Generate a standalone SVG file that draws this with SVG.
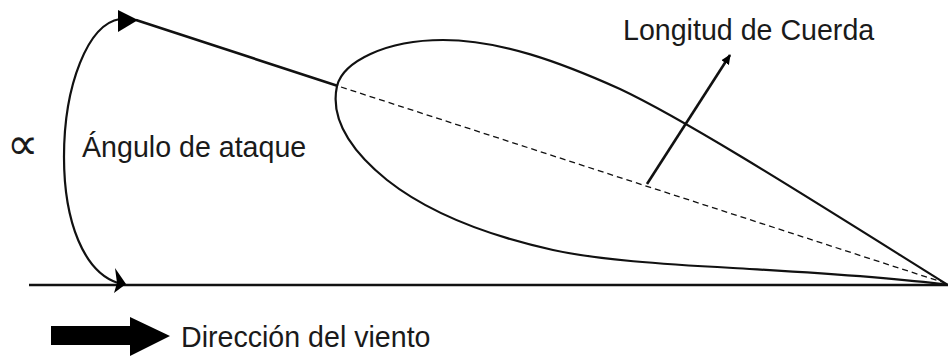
<svg xmlns="http://www.w3.org/2000/svg" width="948" height="356" viewBox="0 0 948 356">
<style>
.t{font-family:"Liberation Sans",Arial,sans-serif;font-size:28.6px;fill:#1a1a1a}
.a{font-family:"DejaVu Sans",sans-serif;font-size:44px;fill:#1a1a1a}
.c{fill:none;stroke:#111}
</style>
<defs>
<marker id="a" markerUnits="userSpaceOnUse" markerWidth="12" markerHeight="12" refX="9" refY="5" orient="auto"><path d="M0 0.5L10 5L0 9.5Z" fill="#000"/></marker>
</defs>
<rect width="948" height="356" fill="#fff"/>
<g id="connectors">
<path class="c" stroke-width="2.6" d="M29 285H948"/>
<path class="c" stroke-width="2.6" d="M136 20L338 86"/>
<path class="c" stroke-width="1.3" stroke-dasharray="6 4" d="M341 87L945 283"/>
<path class="c" stroke-width="2.6" d="M647 184L730 55" marker-end="url(#a)"/>
<path class="c" stroke-width="2.2" d="M120 19C88 24 64 85 64 157C64 222 84 272 118 283"/>
<path d="M118 10L138 20L118 32Z"/>
<path d="M115 268L126 284L114 293L117 283Z"/>
<path d="M51 326H130V317L170 336L130 356V345H51Z"/>
</g>
<g id="airfoil">
<path class="c" stroke-width="2.2" d="M337 86C343 62 385 40 443 40C500 40 560 62 620 89C690 122 820 205 948 285C880 276 800 272 733 268C660 264 600 260 553 250C490 236 430 214 387 180C350 150 330 118 337 86Z"/>
</g>
<g id="label-alpha"><text class="a" x="7" y="159">∝</text></g>
<g id="label-angle"><text class="t" x="82" y="157">Ángulo de ataque</text></g>
<g id="label-chord"><text class="t" x="623" y="40">Longitud de Cuerda</text></g>
<g id="label-wind"><text class="t" x="181" y="347">Dirección del viento</text></g>
</svg>
